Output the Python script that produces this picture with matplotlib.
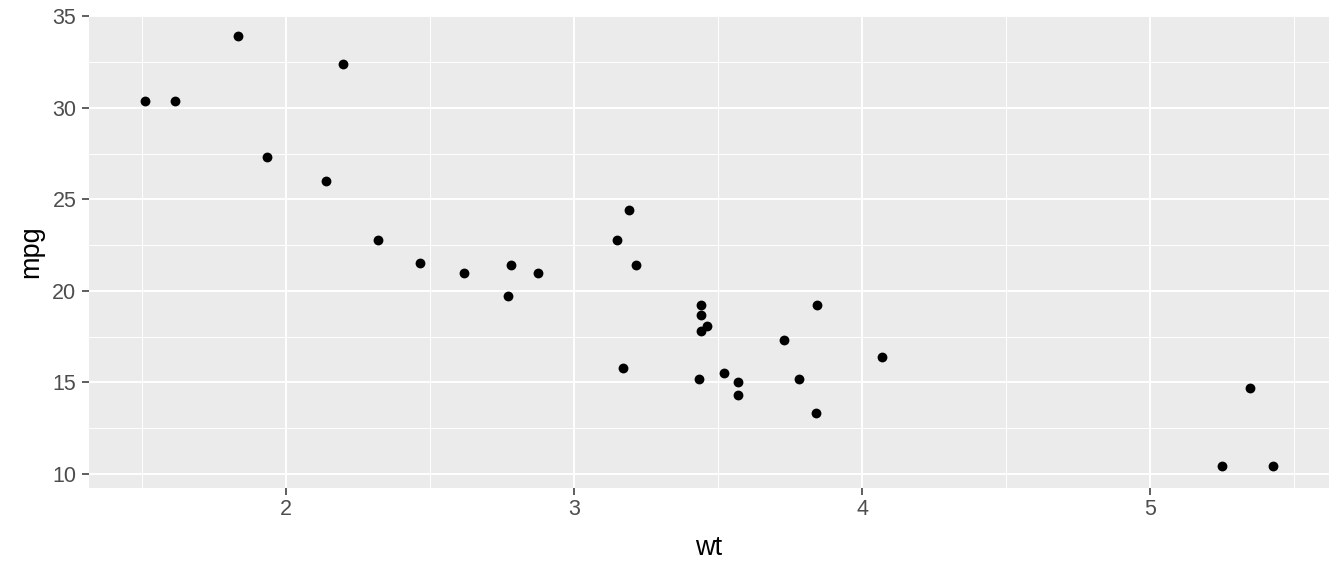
import numpy as np
import matplotlib
matplotlib.use("Agg")
from matplotlib import pyplot as plt
from matplotlib.ticker import MultipleLocator

# mtcars: weight (1000 lbs) and miles per gallon
wt = [2.620, 2.875, 2.320, 3.215, 3.440, 3.460, 3.570, 3.190, 3.150, 3.440,
      3.440, 4.070, 3.730, 3.780, 5.250, 5.424, 5.345, 2.200, 1.615, 1.835,
      2.465, 3.520, 3.435, 3.840, 3.845, 1.935, 2.140, 1.513, 3.170, 2.770,
      3.570, 2.780]
mpg = [21.0, 21.0, 22.8, 21.4, 18.7, 18.1, 14.3, 24.4, 22.8, 19.2,
       17.8, 16.4, 17.3, 15.2, 10.4, 10.4, 14.7, 32.4, 30.4, 33.9,
       21.5, 15.5, 15.2, 13.3, 19.2, 27.3, 26.0, 30.4, 15.8, 19.7,
       15.0, 21.4]
x_ticks = [2, 3, 4, 5]
y_ticks = [10, 15, 20, 25, 30, 35]

plt.rcParams['font.family'] = ['Liberation Sans', 'DejaVu Sans']

fig = plt.figure(figsize=(13.44, 5.76), dpi=100)
ax = fig.add_axes([0.0662, 0.1528, 0.9226, 0.8212])
ax.set_facecolor("#EBEBEB")

ax.scatter(wt, mpg, s=50, color="black", zorder=3, linewidths=0)

# ggplot-style 5% expansion
xr = max(wt) - min(wt)
yr = max(mpg) - min(mpg)
ax.set_xlim(min(wt) - 0.05 * xr, max(wt) + 0.05 * xr)
ax.set_ylim(min(mpg) - 0.05 * yr, max(mpg) + 0.05 * yr)

ax.set_xticks(x_ticks)
ax.set_yticks(y_ticks)
ax.xaxis.set_minor_locator(MultipleLocator(0.5))
ax.yaxis.set_minor_locator(MultipleLocator(2.5))
ax.grid(which="major", color="white", linewidth=1.4)
ax.grid(which="minor", color="white", linewidth=0.7)
ax.set_axisbelow(True)

for s in ax.spines.values():
    s.set_visible(False)
ax.tick_params(which="major", length=5, width=1.1, color="#333333",
               labelcolor="#4D4D4D", labelsize=15.5)
ax.tick_params(axis="y", pad=4)
ax.tick_params(axis="x", pad=3)
ax.tick_params(which="minor", length=0)

ax.set_xlabel("wt", fontsize=19.5, color="black", labelpad=11)
ax.set_ylabel("mpg", fontsize=19.5, color="black", labelpad=6)

fig.savefig("out.png", dpi=100)
